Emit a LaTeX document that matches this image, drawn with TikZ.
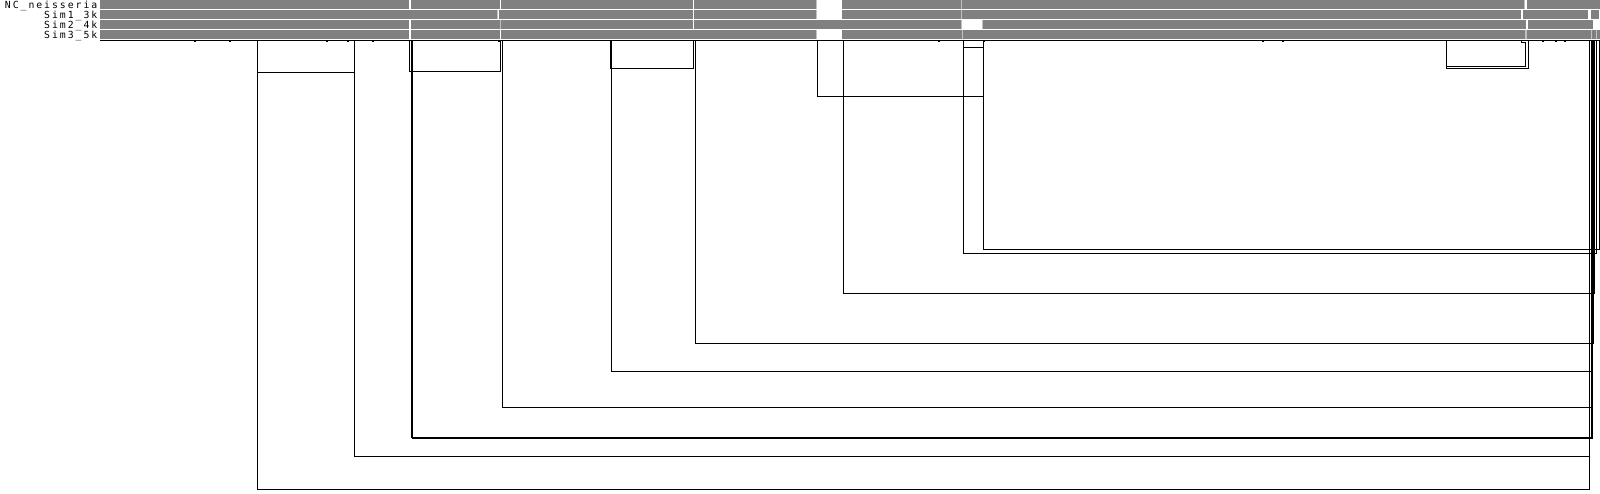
\documentclass[tikz,border=0pt]{standalone}
\usepackage{fontspec}
\newfontfamily\seqfont[LetterSpace=20]{DejaVu Sans Mono}
\definecolor{bargray}{HTML}{808080}
\definecolor{edgegray}{HTML}{C0C0C0}

\begin{document}
\begin{tikzpicture}[x=1pt,y=-1pt,
  bar/.style={fill=bargray},
  gap/.style={fill=white},
  edge/.style={fill=edgegray},
  link/.style={draw=black,line width=1pt},
  tick/.style={fill=black},
  seqname/.style={anchor=base east,inner sep=0pt,font=\seqfont\fontsize{9.8}{10}\selectfont}]
\useasboundingbox (0,0) rectangle (1600,494);
% sequence names
\node[seqname] (nc) at (97.5,8.3) {NC\_neisseria};
\node[seqname] (sim1) at (97.5,18.3) {Sim1\_3k};
\node[seqname] (sim2) at (97.5,28.3) {Sim2\_4k};
\node[seqname] (sim3) at (97.5,38.3) {Sim3\_5k};
% the four bars
\fill[bar] (100,0) rectangle (1600,8.7);
\fill[bar] (100,10) rectangle (1599.3,18.7);
\fill[bar] (100,20) rectangle (1593.3,28.7);
\fill[bar] (100,30) rectangle (1600,38.7);
% breaks in NC_neisseria
\fill[gap] (409.3,0) rectangle (410.7,8.7);
\fill[gap] (500,0) rectangle (501.3,8.7);
\fill[gap] (692.7,0) rectangle (694,8.7);
\fill[edge] (816,0) rectangle (817,8.7);
\fill[gap] (817,0) rectangle (842,8.7);
\fill[edge] (961,0) rectangle (962,8.7);
\fill[edge] (1524.3,0) rectangle (1525,8.7);
\fill[gap] (1525,0) rectangle (1526.7,8.7);
% breaks in Sim1_3k
\fill[edge] (496.7,10) rectangle (497.7,18.7);
\fill[gap] (497.7,10) rectangle (499.3,18.7);
\fill[gap] (692.7,10) rectangle (694,18.7);
\fill[edge] (816,10) rectangle (817,18.7);
\fill[gap] (817,10) rectangle (842,18.7);
\fill[edge] (961,10) rectangle (962,18.7);
\fill[gap] (1520.7,10) rectangle (1523.3,18.7);
\fill[gap] (1588.3,10) rectangle (1590.7,18.7);
% breaks in Sim2_4k
\fill[gap] (409.3,20) rectangle (410.7,28.7);
\fill[edge] (500,20) rectangle (501.3,28.7);
\fill[gap] (692.7,20) rectangle (694,28.7);
\fill[edge] (961,20) rectangle (962.3,28.7);
\fill[gap] (962.3,20) rectangle (981.8,28.7);
\fill[edge] (981.8,20) rectangle (982.6,28.7);
\fill[gap] (1526,20) rectangle (1528.3,28.7);
% breaks in Sim3_5k
\fill[gap] (409.3,30) rectangle (410.7,38.7);
\fill[gap] (500,30) rectangle (501.3,38.7);
\fill[edge] (816,30) rectangle (817,38.7);
\fill[gap] (817,30) rectangle (842,38.7);
\fill[edge] (961.5,30) rectangle (962.5,38.7);
\fill[edge] (1525,30) rectangle (1527,38.7);
\fill[edge] (1590.7,30) rectangle (1591.7,38.7);
\fill[edge] (1596,30) rectangle (1597,38.7);
% axis and its marks
\draw[line width=1pt] (100,40.2) -- (1600,40.2);
\fill[tick] (194,40.5) rectangle (196,41.8);
\fill[tick] (229,40.5) rectangle (231,41.8);
\fill[tick] (326,40.5) rectangle (328,41.8);
\fill[tick] (347,40.5) rectangle (349,41.8);
\fill[tick] (372,40.5) rectangle (374,41.8);
\fill[tick] (497.7,40.5) rectangle (499.7,41.8);
\fill[tick] (938,40.5) rectangle (940,41.8);
\fill[tick] (983,40.5) rectangle (985,41.8);
\fill[tick] (1262,40.5) rectangle (1264,41.8);
\fill[tick] (1282,40.5) rectangle (1284,41.8);
\fill[tick] (1542,40.5) rectangle (1544,41.8);
\fill[tick] (1555,40.5) rectangle (1557,41.8);
\fill[tick] (1564,40.5) rectangle (1566,41.8);
% brackets between break points
\draw[link] (257.3,40) |- (354.3,73) -- (354.3,40);
\draw[link] (257.3,40) |- (1589,489.3) -- (1589,40);
\draw[link] (354.3,40) |- (1589.5,456.7) -- (1589.5,40);
\draw[link] (409.3,40) |- (500.7,71.3) -- (500.7,40);
\draw[link] (411.5,40) |- (1591.5,437.8) -- (1591.5,40);
\draw[link] (412.5,40) |- (1592.2,438.8) -- (1592.2,40);
\draw[link] (502.3,40) |- (1592.2,407.3) -- (1592.2,40);
\draw[link] (610.7,40) |- (693.3,68.3) -- (693.3,40);
\draw[link] (611.7,40) |- (1592.5,371.7) -- (1592.5,40);
\draw[link] (695.7,40) |- (1593,343.3) -- (1593,40);
\draw[link] (817.3,40) |- (983.3,96.3) -- (983.3,40);
\draw[link] (843.3,40) |- (1594.3,293.3) -- (1594.3,40);
\draw[link] (963.3,40) |- (983.3,47.3);
\draw[link] (963.3,40) |- (1596.7,254) -- (1596.7,40);
\draw[link] (983.3,40) |- (1599.3,249.3) -- (1599.3,40);
\draw[link] (1446.7,40) |- (1525,66.7) -- (1525,42.3) -- (1521.7,42.3) -- (1521.7,40);
\draw[link] (1446.7,40) |- (1528.3,68.3) -- (1528.3,40);
\end{tikzpicture}
\end{document}
